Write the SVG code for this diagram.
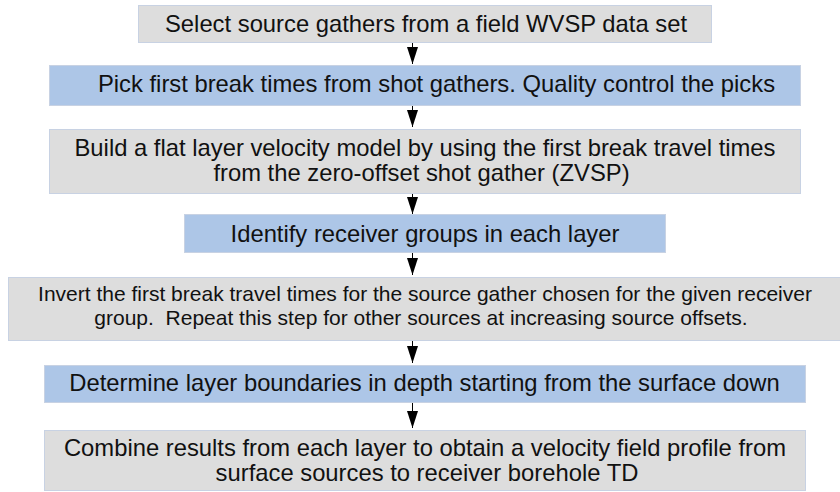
<svg xmlns="http://www.w3.org/2000/svg" width="840" height="492" viewBox="0 0 840 492">
<style>
.gray{fill:#dddddd;stroke:#c8d2e3;stroke-width:1}
.blue{fill:#adc6e7;stroke:#c8d2e3;stroke-width:1}
text{font-family:"Liberation Sans",Arial,sans-serif;fill:#111;text-anchor:middle;white-space:pre}
.t24{font-size:23.8px}
.t20{font-size:21px}
.conn{stroke:#000;stroke-width:1;fill:none;marker-end:url(#arr)}
</style>
<defs>
<marker id="arr" markerUnits="userSpaceOnUse" markerWidth="17" markerHeight="12" refX="17" refY="6" orient="auto">
<path d="M0,0.5 L17,6 L0,11.5 z" fill="#000"/>
</marker>
</defs>
<rect width="840" height="492" fill="#fff"/>
<g id="connectors">
<line class="conn" x1="412.5" y1="42" x2="412.5" y2="64"/>
<line class="conn" x1="412.5" y1="106" x2="412.5" y2="127"/>
<line class="conn" x1="412.5" y1="194" x2="412.5" y2="214"/>
<line class="conn" x1="412.5" y1="253" x2="412.5" y2="275"/>
<line class="conn" x1="412.5" y1="341" x2="412.5" y2="363"/>
<line class="conn" x1="412.5" y1="403" x2="412.5" y2="428"/>
</g>
<g id="n1">
<rect class="gray" x="138.5" y="5.5" width="573" height="37"/>
<text class="t24" x="426" y="32">Select source gathers from a field WVSP data set</text>
</g>
<g id="n2">
<rect class="blue" x="49.5" y="65.5" width="751" height="40"/>
<text class="t24" x="436.5" y="92">Pick first break times from shot gathers. Quality control the picks</text>
</g>
<g id="n3">
<rect class="gray" x="49.5" y="129.5" width="751" height="64"/>
<text class="t24" x="425" y="156">Build a flat layer velocity model by using the first break travel times</text>
<text class="t24" x="421.5" y="181">from the zero-offset shot gather (ZVSP)</text>
</g>
<g id="n4">
<rect class="blue" x="184.5" y="214.5" width="481" height="38"/>
<text class="t24" x="425" y="242">Identify receiver groups in each layer</text>
</g>
<g id="n5">
<rect class="gray" x="8.5" y="277.5" width="832" height="63"/>
<text class="t20" x="425" y="301">Invert the first break travel times for the source gather chosen for the given receiver</text>
<text class="t20" x="421" y="324.5">group.  Repeat this step for other sources at increasing source offsets.</text>
</g>
<g id="n6">
<rect class="blue" x="44.5" y="365.5" width="761" height="37"/>
<text class="t24" x="424.5" y="391">Determine layer boundaries in depth starting from the surface down</text>
</g>
<g id="n7">
<rect class="gray" x="44.5" y="430.5" width="761" height="60"/>
<text class="t24" x="425" y="456">Combine results from each layer to obtain a velocity field profile from</text>
<text class="t24" x="427" y="481">surface sources to receiver borehole TD</text>
</g>
</svg>
